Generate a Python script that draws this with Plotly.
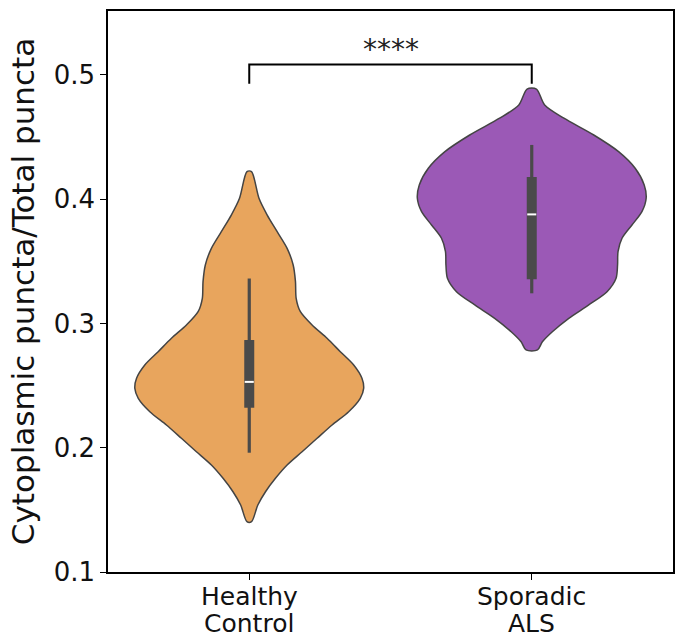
import plotly.graph_objects as go

# ---------------- data ----------------
categories = [["Healthy", "Control"], ["Sporadic", "ALS"]]
colors = ["#E8A55D", "#9B59B6"]

# violin density profiles: value levels (top -> bottom) and relative density (max = 1)
hc_levels = [0.4222, 0.4008, 0.3873, 0.3739, 0.3605, 0.3471, 0.3337, 0.3203, 0.3095,
             0.2988, 0.2881, 0.2773, 0.2666, 0.2559, 0.2478, 0.2398, 0.2290, 0.2183,
             0.2076, 0.1968, 0.1861, 0.1754, 0.1646, 0.1539, 0.1405]
hc_density = [0.020, 0.085, 0.157, 0.244, 0.331, 0.384, 0.404, 0.410, 0.447,
              0.549, 0.680, 0.796, 0.913, 0.985, 1.000, 0.970, 0.869, 0.724,
              0.593, 0.462, 0.331, 0.229, 0.142, 0.075, 0.020]

als_levels = [0.4887, 0.4759, 0.4652, 0.4517, 0.4383, 0.4249, 0.4115, 0.4008, 0.3900,
              0.3793, 0.3686, 0.3578, 0.3471, 0.3364, 0.3256, 0.3149, 0.3042, 0.2934,
              0.2853, 0.2787]
als_density = [0.041, 0.113, 0.281, 0.542, 0.759, 0.904, 0.983, 1.000, 0.963,
               0.876, 0.789, 0.754, 0.750, 0.737, 0.658, 0.498, 0.324, 0.180,
               0.093, 0.050]

# inner box statistics: [whisker_low, q1, median, q3, whisker_high]
hc_stats = [0.1960, 0.2322, 0.2530, 0.2867, 0.3362]
als_stats = [0.3243, 0.3356, 0.3878, 0.4180, 0.4437]

significance = "****"

# ---------------- figure ----------------
levels = [hc_levels, als_levels]
densities = [hc_density, als_density]
stats = [hc_stats, als_stats]

HALF_W = 0.405      # max half-width of a violin in category units
EDGE = "#444444"
BOX = "#4a4a4a"
FONT = "DejaVu Sans"

fig = go.Figure()

for i, (lv, dn, col) in enumerate(zip(levels, densities, colors)):
    xs = [i - HALF_W * d for d in dn] + [i + HALF_W * d for d in reversed(dn)]
    ys = list(lv) + list(reversed(lv))
    xs.append(xs[0])
    ys.append(ys[0])
    fig.add_trace(go.Scatter(
        x=xs, y=ys, mode="lines", fill="toself", fillcolor=col,
        line=dict(color=EDGE, width=1.5, shape="spline", smoothing=0.8),
        hoverinfo="skip", showlegend=False))

for i, st in enumerate(stats):
    wl, q1, med, q3, wh = st
    fig.add_trace(go.Scatter(x=[i, i], y=[wl, wh], mode="lines",
                             line=dict(color=BOX, width=3.2),
                             hoverinfo="skip", showlegend=False))
    fig.add_trace(go.Scatter(x=[i, i], y=[q1, q3], mode="lines",
                             line=dict(color=BOX, width=10),
                             hoverinfo="skip", showlegend=False))
    fig.add_trace(go.Scatter(x=[i - 0.016, i + 0.016], y=[med, med], mode="lines",
                             line=dict(color="white", width=2),
                             hoverinfo="skip", showlegend=False))

# significance bracket
br_low, br_high = 0.493, 0.5085
fig.add_trace(go.Scatter(x=[0, 0, 1, 1], y=[br_low, br_high, br_high, br_low],
                         mode="lines", line=dict(color="black", width=2),
                         hoverinfo="skip", showlegend=False))
fig.add_annotation(x=0.5, y=br_high, text=significance, showarrow=False,
                   yanchor="bottom", yshift=-4,
                   font=dict(family=FONT, size=28, color="#222222"))

# two-line category labels (tight line spacing like the reference)
for i, lines in enumerate(categories):
    for j, line in enumerate(lines):
        fig.add_annotation(x=i, xref="x", y=0, yref="paper", text=line,
                           showarrow=False, yanchor="middle", yshift=-24 - 27 * j,
                           font=dict(family=FONT, size=25, color="#111111"))

axis_common = dict(showline=True, linecolor="black", linewidth=1.5, mirror=True,
                   ticks="outside", ticklen=6, tickwidth=1.3, tickcolor="black",
                   showgrid=False, zeroline=False,
                   tickfont=dict(family=FONT, size=26, color="#111111"))

fig.update_layout(
    width=678, height=637,
    margin=dict(l=108, r=5, t=11, b=65),
    paper_bgcolor="white", plot_bgcolor="white",
    font=dict(family=FONT),
    xaxis=dict(range=[-0.5, 1.5], tickvals=[0, 1], ticktext=["", ""], **axis_common),
    yaxis=dict(range=[0.1, 0.5515], tickvals=[0.1, 0.2, 0.3, 0.4, 0.5],
               ticktext=["0.1", "0.2", "0.3", "0.4", "0.5"],
               automargin=False,
               title=dict(text="Cytoplasmic puncta/Total puncta", standoff=10,
                          font=dict(family=FONT, size=31, color="#111111")),
               **axis_common),
)

fig.write_html("out.html",
               config={"displayModeBar": False},
               post_script="document.body.style.margin='0px';document.body.style.overflow='hidden';")
